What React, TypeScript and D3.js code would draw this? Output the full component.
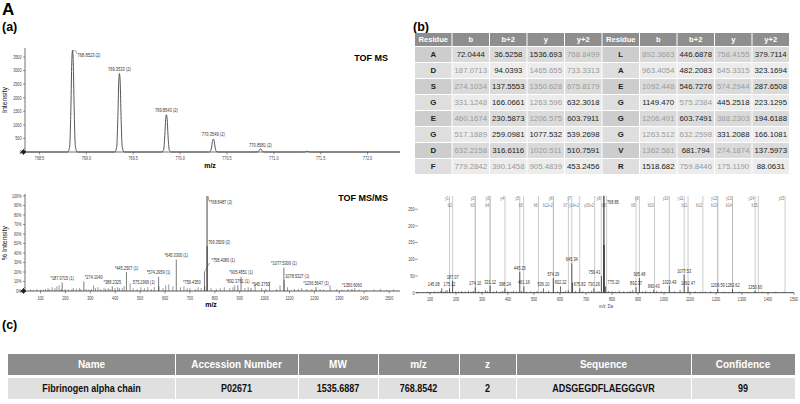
import React from 'react';
import * as d3 from 'd3';

const FONT = "'Liberation Sans', Arial, Helvetica, sans-serif";

// ---------- (a) TOF MS ----------
const msPeakMz = [768.8523, 769.3533, 769.8543, 770.3549, 770.8581, 771.356];
const msPeakInt = [3750, 2890, 1370, 480, 110, 25];
const msPeakLabel = ['768.8523 (2)', '769.3533 (2)', '769.8543 (2)', '770.3549 (2)', '770.8581 (2)', ''];
const msYTicks = [0, 500, 1000, 1500, 2000, 2500, 3000, 3500];
const msXTicks = [768.5, 769.0, 769.5, 770.0, 770.5, 771.0, 771.5, 772.0];

// ---------- (a) TOF MS/MS ----------
const msmsMz = [187.0715, 274.104, 388.2325, 445.2507, 575.2969, 574.2959, 645.33, 759.435, 768.8487, 769.3509, 758.408, 892.3761, 905.4851, 945.375, 1077.5309, 1078.5327, 1206.5647, 1350.606];
const msmsPct = [9, 10, 5, 20, 5, 15, 33, 5, 100, 47, 20, 6, 15, 3, 24.5, 11.5, 4, 2];
const msmsLabel = ['*187.0715 (1)', '*274.1040', '*388.2325', '*445.2507 (1)', '575.2969 (1)', '*574.2959 (1)', '*645.3300 (1)', '*759.4350', '*768.8487 (2)', '769.3509 (2)', '*758.4080 (1)', '*892.3761 (1)', '*905.4851 (1)', '*945.3750', '*1077.5309 (1)', '1078.5327 (1)', '*1206.5647 (1)', '*1350.6060'];
const msmsNoise: [number, number][] = [
  [60, 1.5], [72, 1], [86, 2], [101, 1.5], [112, 1], [120, 2], [130, 3], [136, 1.5], [147, 4], [158, 3], [166, 5], [175, 6], [183, 2],
  [199, 2], [212, 1.5], [226, 2], [232, 3], [244, 2.5], [256, 3], [262, 2], [283, 2], [294, 1.5], [304, 2], [313, 6], [321, 3], [331, 4],
  [342, 2], [355, 3], [361, 2], [372, 3], [379, 2], [399, 3], [410, 4], [417, 3], [428, 3], [436, 5], [460, 8], [472, 3], [488, 2],
  [503, 4], [517, 3], [531, 4], [545, 2], [557, 4], [592, 3], [603, 6], [615, 7], [632, 5], [662, 4], [676, 5], [689, 3], [700, 3],
  [722, 2], [733, 4], [745, 3], [785, 3], [806, 2], [822, 3], [838, 4], [860, 3], [873, 4], [880, 6], [921, 3], [934, 4], [962, 7],
  [988, 3], [1005, 2], [1020, 10], [1048, 2], [1062, 6], [1092, 4], [1120, 2], [1136, 2], [1149, 3], [1170, 2], [1190, 2], [1223, 2],
  [1237, 1.5], [1263, 6], [1290, 2], [1310, 1.5], [1335, 2], [1362, 3], [1380, 1.5], [1410, 1], [1440, 1.5], [1465, 2], [1490, 1], [1518, 1.5],
];
const msmsYTicks = [0, 10, 20, 30, 40, 50, 60, 70, 80, 90, 100];
const msmsXTicks = [100, 200, 300, 400, 500, 600, 700, 800, 900, 1000, 1100, 1200, 1300, 1400, 1500];
const msmsAnchor: Record<string, string> = {
  '*274.1040': 'start', '575.2969 (1)': 'end', '*759.4350': 'end', '*768.8487 (2)': 'leadDown',
  '769.3509 (2)': 'start', '*758.4080 (1)': 'leadUp', '1078.5327 (1)': 'start', '*945.3750': 'start',
};

// ---------- (b) fragment table ----------
const tableHeader = ['Residue', 'b', 'b+2', 'y', 'y+2', 'Residue', 'b', 'b+2', 'y', 'y+2'];
const resLeft = ['A', 'D', 'S', 'G', 'E', 'G', 'D', 'F'];
const bLeft = ['72.0444', '187.0713', '274.1034', '331.1248', '460.1674', '517.1889', '632.2158', '779.2842'];
const b2Left = ['36.5258', '94.0393', '137.5553', '166.0661', '230.5873', '259.0981', '316.6116', '390.1458'];
const yLeft = ['1536.693', '1465.655', '1350.628', '1263.596', '1206.575', '1077.532', '1020.511', '905.4839'];
const y2Left = ['768.8499', '733.3313', '675.8179', '632.3018', '603.7911', '539.2698', '510.7591', '453.2456'];
const resRight = ['L', 'A', 'E', 'G', 'G', 'G', 'V', 'R'];
const bRight = ['892.3683', '963.4054', '1092.448', '1149.470', '1206.491', '1263.512', '1362.581', '1518.682'];
const b2Right = ['446.6878', '482.2083', '546.7276', '575.2384', '603.7491', '632.2598', '681.794', '759.8446'];
const yRight = ['758.4155', '645.3315', '574.2944', '445.2518', '388.2303', '331.2088', '274.1874', '175.1190'];
const y2Right = ['379.7114', '323.1694', '287.6508', '223.1295', '194.6188', '166.1081', '137.5973', '88.0631'];
// matched (shown grey) flags per column
const mbLeft = [false, true, true, true, true, true, true, true];
const mb2Left = [false, false, false, false, false, false, false, true];
const myLeft = [false, true, true, true, true, false, true, true];
const my2Left = [true, true, true, false, false, false, false, false];
const mbRight = [true, true, true, false, true, true, true, false];
const mb2Right = [false, false, false, true, false, true, false, true];
const myRight = [true, true, true, false, true, false, true, true];
const my2Right = [false, false, false, false, false, false, false, false];

// ---------- (b) annotated spectrum ----------
const annPeakMz = [145.08, 175.12, 187.07, 274.1, 331.12, 388.24, 445.25, 461.16, 536.1, 574.29, 602.22, 645.34, 648.3, 675.82, 730.26, 759.41, 768.85, 769.35, 775.2, 892.37, 905.48, 960.43, 1020.49, 1077.53, 1092.47, 1206.59, 1263.62, 1350.6];
const annPeakInt = [13, 13, 36, 16, 21, 13, 63, 19, 13, 43, 19, 88, 30, 13, 13, 50, 300, 143, 19, 16, 44, 9, 21, 54, 18, 11, 11, 6];
const annPeakLabel = ['145.08', '175.12', '187.07', '274.10', '331.12', '388.24', '445.25', '461.16', '536.10', '574.29', '602.22', '645.34', '', '675.82', '730.26', '759.41', '768.85', '', '775.20', '892.37', '905.48', '960.43', '1020.49', '1077.53', '1092.47', '1206.59', '1263.62', '1350.60'];
const annNoise: [number, number][] = [
  [92, 3], [104, 2], [118, 4], [131, 3], [140, 5], [152, 3], [160, 6], [166, 8], [199, 4], [210, 3], [222, 5], [236, 4], [248, 6],
  [258, 3], [266, 5], [287, 4], [300, 3], [313, 8], [320, 5], [344, 4], [356, 6], [372, 3], [380, 5], [399, 4], [412, 3], [421, 6],
  [433, 4], [452, 5], [472, 3], [488, 4], [500, 3], [512, 5], [528, 4], [545, 3], [556, 6], [590, 4], [614, 3], [622, 6], [632, 8],
  [660, 5], [688, 4], [712, 3], [722, 6], [742, 4], [750, 5], [786, 5], [800, 4], [812, 3], [828, 6], [845, 4], [860, 3], [870, 5],
  [880, 8], [918, 4], [930, 6], [948, 3], [972, 5], [990, 4], [1005, 3], [1040, 4], [1062, 8], [1100, 3], [1120, 4], [1140, 3],
  [1160, 3], [1180, 4], [1230, 3], [1250, 2], [1290, 3], [1320, 2], [1380, 3], [1400, 2], [1430, 3], [1460, 2], [1490, 2],
];
const annLabelDx: Record<string, number> = { '145.08': -8, '759.41': -7, '775.20': 8 };
const yIonLabel = ['y1', 'y2', 'y3', 'y4', 'y5', 'y6', 'y7', 'y8', 'y9', 'y10', 'y11', 'y12', 'y13', 'y14', 'y15'];
const yIonMz = [175.119, 274.1874, 331.2088, 388.2303, 445.2518, 574.2944, 645.3315, 758.4155, 905.4839, 1020.511, 1077.532, 1206.575, 1263.596, 1350.628, 1465.655];
const bIonLabel = ['b2', 'b3', 'b4', 'b5', 'b6', 'b12+2', 'b7', 'y14+2', 'y15+2', 'b8', 'b9', 'b10', 'b11', 'b12', 'b13', 'b14', 'b15'];
const bIonMz = [187.0713, 274.1034, 331.1248, 460.1674, 517.1889, 575.2384, 632.2158, 675.8179, 733.3313, 779.2842, 892.3683, 963.4054, 1092.448, 1149.47, 1206.491, 1263.512, 1362.581];
const annYTicks = [0, 50, 100, 150, 200, 250];
const annXTicks = [100, 200, 300, 400, 500, 600, 700, 800, 900, 1000, 1100, 1200, 1300, 1400, 1500];

// ---------- (c) identification table ----------
const idHeader = ['Name', 'Accession Number', 'MW', 'm/z', 'z', 'Sequence', 'Confidence'];
const idRow = ['Fibrinogen alpha chain', 'P02671', '1535.6887', '768.8542', '2', 'ADSGEGDFLAEGGGVR', '99'];

type TP = { x: number; y: number; anchor?: string; sx?: number; size?: number; fill?: string; weight?: string; children: React.ReactNode };
function T({ x, y, anchor = 'start', sx = 0.75, size = 5, fill = '#444', weight = 'normal', children }: TP) {
  return (
    <text transform={`translate(${x},${y}) scale(${sx},1)`} textAnchor={anchor} fontFamily={FONT} fontSize={size} fill={fill} fontWeight={weight}>{children}</text>
  );
}

function Diamond({ x, y }: { x: number; y: number }) {
  return <path d={`M${x - 2.5},${y} L${x},${y - 2.5} L${x + 2.5},${y} L${x},${y + 2.5} Z M${x - 3.5},${y + 1} L${x + 1},${y - 3.5}`} fill="#222" stroke="#222" strokeWidth={0.6} />;
}

export default function App() {
  // ---- TOF MS ----
  const msX = d3.scaleLinear().domain([768.5, 772.0]).range([39.5, 367.5]);
  const msY = d3.scaleLinear().domain([0, 3500]).range([152, 57]);
  const offs = [-0.05, -0.03, -0.017, -0.008, 0, 0.008, 0.017, 0.03, 0.05];
  const fr = [0, 0.06, 0.45, 0.88, 1, 0.88, 0.45, 0.06, 0];
  const prof: [number, number][] = [[msX.invert(25), 0]];
  msPeakMz.forEach((m, i) => offs.forEach((o, j) => prof.push([m + o, msPeakInt[i] * fr[j]])));
  prof.push([msX.invert(400), 0]);
  const profPath = d3.line<[number, number]>().x(d => msX(d[0])).y(d => msY(d[1])).curve(d3.curveMonotoneX)(prof) || '';

  // ---- TOF MS/MS ----
  const mmX = d3.scaleLinear().domain([100, 1500]).range([40.5, 389.1]);
  const mmY = d3.scaleLinear().domain([0, 100]).range([291, 196]);

  // ---- annotated ----
  const anX = d3.scaleLinear().domain([100, 1500]).range([430, 794]);
  const anY = d3.scaleLinear().domain([0, 250]).range([292.7, 209.2]);
  const anTop = 196;

  // table (b)
  const colX = d3.range(11).map(i => 415 + i * 37.5);
  const headTop = 33, headH = 13, rowTop = 47, rowH = 16;
  const cols = [
    { vals: resLeft, m: null as boolean[] | null }, { vals: bLeft, m: mbLeft }, { vals: b2Left, m: mb2Left }, { vals: yLeft, m: myLeft }, { vals: y2Left, m: my2Left },
    { vals: resRight, m: null as boolean[] | null }, { vals: bRight, m: mbRight }, { vals: b2Right, m: mb2Right }, { vals: yRight, m: myRight }, { vals: y2Right, m: my2Right },
  ];

  // table (c)
  const idEdges = [8, 175, 298, 378, 459, 516, 691, 795];

  return (
    <svg width={800} height={404} style={{ position: 'absolute', left: 0, top: 0, background: '#fff' }}>
      <rect width={800} height={404} fill="#fff" />
      <text x={2} y={15} fontFamily={FONT} fontWeight="bold" fontSize={17}>A</text>
      <text x={2} y={31} fontFamily={FONT} fontWeight="bold" fontSize={12.5}>(a)</text>
      <text x={413} y={31} fontFamily={FONT} fontWeight="bold" fontSize={12.5}>(b)</text>
      <text x={2} y={329} fontFamily={FONT} fontWeight="bold" fontSize={12.5}>(c)</text>

      {/* ===== TOF MS ===== */}
      <g>
        <line x1={25} x2={25} y1={48} y2={152} stroke="#333" strokeWidth={0.7} />
        <line x1={25} x2={400} y1={152} y2={152} stroke="#333" strokeWidth={0.7} />
        {msYTicks.map(t => (
          <g key={t}>
            <line x1={23} x2={25} y1={msY(t)} y2={msY(t)} stroke="#333" strokeWidth={0.5} />
            <T x={21.5} y={msY(t) + 1.8} anchor="end">{t}</T>
          </g>
        ))}
        {msXTicks.map(t => (
          <g key={t}>
            <line x1={msX(t)} x2={msX(t)} y1={152} y2={154.5} stroke="#333" strokeWidth={0.5} />
            <T x={msX(t)} y={160} anchor="middle">{t.toFixed(1)}</T>
          </g>
        ))}
        <path d={profPath} fill="none" stroke="#555" strokeWidth={1} />
        {msPeakMz.map((m, i) => {
          if (!msPeakLabel[i]) return null;
          const px = msX(m), py = msY(msPeakInt[i]);
          if (i === 0) {
            return (
              <g key={i}>
                <polyline points={`${px + 0.5},${py} ${px + 3.5},${py + 1} ${px + 4.5},${py + 4}`} fill="none" stroke="#555" strokeWidth={0.5} />
                <T x={px + 5} y={py + 6.5} size={5.4} fill="#333">{msPeakLabel[i]}</T>
              </g>
            );
          }
          return <T key={i} x={px} y={py - 2.5} anchor="middle" size={5.4} fill="#333">{msPeakLabel[i]}</T>;
        })}
        <Diamond x={23.5} y={152} />
        <text x={210} y={168} textAnchor="middle" fontFamily={FONT} fontWeight="bold" fontSize={7}>m/z</text>
        <text transform="translate(7,100) rotate(-90)" textAnchor="middle" fontFamily={FONT} fontSize={7} fill="#222">Intensity</text>
        <text x={388} y={61} textAnchor="end" fontFamily={FONT} fontWeight="bold" fontSize={9}>TOF MS</text>
      </g>

      {/* ===== TOF MS/MS ===== */}
      <g>
        <line x1={25} x2={25} y1={194} y2={291} stroke="#333" strokeWidth={0.7} />
        {msmsNoise.map(([m, p], i) => (
          <line key={'n' + i} x1={mmX(m)} x2={mmX(m)} y1={291} y2={mmY(p)} stroke="#555" strokeWidth={0.6} />
        ))}
        {msmsMz.map((m, i) => (
          <line key={'p' + i} x1={mmX(m)} x2={mmX(m)} y1={291} y2={mmY(msmsPct[i])} stroke="#444" strokeWidth={i === 8 || i === 9 ? 1 : 0.7} />
        ))}
        <line x1={25} x2={400} y1={291} y2={291} stroke="#333" strokeWidth={0.8} />
        {msmsYTicks.map(t => (
          <g key={t}>
            <line x1={23} x2={25} y1={mmY(t)} y2={mmY(t)} stroke="#333" strokeWidth={0.5} />
            <T x={21.5} y={mmY(t) + 1.8} anchor="end">{`${t}%`}</T>
          </g>
        ))}
        {msmsXTicks.map(t => (
          <g key={t}>
            <line x1={mmX(t)} x2={mmX(t)} y1={291} y2={293.5} stroke="#333" strokeWidth={0.5} />
            <T x={mmX(t)} y={299.5} anchor="middle">{t}</T>
          </g>
        ))}
        {msmsMz.map((m, i) => {
          const lab = msmsLabel[i];
          const px = mmX(m), py = mmY(msmsPct[i]);
          const a = msmsAnchor[lab] || 'middle';
          if (a === 'leadDown') {
            return (
              <g key={'l' + i}>
                <polyline points={`${px + 0.5},${py} ${px + 1.5},${py + 1} ${px + 1.5},${py + 4}`} fill="none" stroke="#555" strokeWidth={0.5} />
                <T x={px + 1.5} y={py + 8} size={5.2} fill="#333">{lab}</T>
              </g>
            );
          }
          if (a === 'leadUp') {
            return (
              <g key={'l' + i}>
                <polyline points={`${px},${py} ${px + 5},${py - 9}`} fill="none" stroke="#555" strokeWidth={0.5} />
                <T x={px + 7} y={py - 10} size={5.2} fill="#333">{lab}</T>
              </g>
            );
          }
          if (a === 'start') return <T key={'l' + i} x={px + 1} y={py - 2.5} size={5.2} fill="#333">{lab}</T>;
          if (a === 'end') return <T key={'l' + i} x={px - 4} y={py - 2.5} anchor="end" size={5.2} fill="#333">{lab}</T>;
          return <T key={'l' + i} x={px} y={py - 2.5} anchor="middle" size={5.2} fill="#333">{lab}</T>;
        })}
        <Diamond x={23.5} y={291} />
        <text x={211} y={307} textAnchor="middle" fontFamily={FONT} fontWeight="bold" fontSize={7}>m/z</text>
        <text transform="translate(7,243) rotate(-90)" textAnchor="middle" fontFamily={FONT} fontSize={7} fill="#222">% Intensity</text>
        <text x={388} y={201} textAnchor="end" fontFamily={FONT} fontWeight="bold" fontSize={9}>TOF MS/MS</text>
      </g>

      {/* ===== (b) table ===== */}
      <g>
        {tableHeader.map((h, c) => (
          <g key={'h' + c}>
            <rect x={colX[c]} y={headTop} width={36.5} height={headH} fill="#8e8e8e" />
            <text x={colX[c] + 18.25} y={headTop + 9.2} textAnchor="middle" fontFamily={FONT} fontWeight="bold" fontSize={7.6} fill="#fff">{h}</text>
          </g>
        ))}
        {resLeft.map((_, r) => (
          <g key={'r' + r}>
            {cols.map((col, c) => {
              const isRes = col.m === null;
              const odd = r % 2 === 0;
              const bg = isRes ? (odd ? '#cdcdcd' : '#dedede') : (odd ? '#dadada' : '#ececec');
              const grey = col.m ? col.m[r] : false;
              return (
                <g key={c}>
                  <rect x={colX[c]} y={rowTop + r * rowH} width={36.5} height={rowH - 1} fill={bg} />
                  <text x={colX[c] + 18.25} y={rowTop + r * rowH + 10.3} textAnchor="middle" fontFamily={FONT}
                    fontWeight={isRes ? 'bold' : 'normal'} fontSize={7.8} fill={isRes ? '#222' : grey ? '#9a9a9a' : '#222'}>{col.vals[r]}</text>
                </g>
              );
            })}
          </g>
        ))}
      </g>

      {/* ===== (b) annotated spectrum ===== */}
      <g>
        {yIonMz.map((m, i) => (
          <g key={'y' + i}>
            <line x1={anX(m)} x2={anX(m)} y1={anTop} y2={292.7} stroke="#b5b5b5" strokeWidth={0.7} />
            <T x={anX(m) - 0.8} y={200} anchor="end" size={4.8} fill="#777">{yIonLabel[i]}</T>
          </g>
        ))}
        {bIonMz.map((m, i) => (
          <g key={'b' + i}>
            <line x1={anX(m)} x2={anX(m)} y1={anTop} y2={292.7} stroke="#b5b5b5" strokeWidth={0.7} />
            <T x={anX(m) - 0.8} y={207} anchor="end" size={4.8} fill="#777">{bIonLabel[i]}</T>
          </g>
        ))}
        {annNoise.map(([m, h], i) => (
          <line key={'an' + i} x1={anX(m)} x2={anX(m)} y1={292.7} y2={anY(h)} stroke="#333" strokeWidth={0.6} />
        ))}
        {annPeakMz.map((m, i) => {
          const v = Math.min(annPeakInt[i], 290);
          const px = anX(m), py = anY(v);
          const lab = annPeakLabel[i];
          return (
            <g key={'ap' + i}>
              <line x1={px} x2={px} y1={292.7} y2={py} stroke="#222" strokeWidth={i === 16 || i === 17 ? 1.1 : 0.7} />
              {lab && (annPeakInt[i] > 290
                ? <T x={px + 3} y={204} size={5.2} fill="#333">{lab}</T>
                : <T x={px + (annLabelDx[lab] || 0)} y={py - 2} anchor="middle" size={5.2} fill="#333">{lab}</T>)}
            </g>
          );
        })}
        <line x1={416} x2={794} y1={292.7} y2={292.7} stroke="#222" strokeWidth={0.8} />
        {annYTicks.map(t => (
          <g key={t}>
            <line x1={415} x2={418} y1={anY(t)} y2={anY(t)} stroke="#444" strokeWidth={0.5} />
            <T x={414.5} y={anY(t) + 1.8} anchor="end">{t}</T>
          </g>
        ))}
        {annXTicks.map(t => (
          <g key={t}>
            <line x1={anX(t)} x2={anX(t)} y1={292.7} y2={295} stroke="#333" strokeWidth={0.5} />
            <T x={anX(t)} y={300.5} anchor="middle">{t}</T>
          </g>
        ))}
        <T x={606} y={308} anchor="middle" size={5.4}>m/z, Da</T>
      </g>

      {/* ===== (c) table ===== */}
      <g>
        {idHeader.map((h, c) => (
          <g key={'ih' + c}>
            <rect x={idEdges[c] + (c ? 1 : 0)} y={354} width={idEdges[c + 1] - idEdges[c] - (c ? 1 : 0)} height={21} fill="#8c8c8c" />
            <text x={(idEdges[c] + idEdges[c + 1]) / 2} y={368} textAnchor="middle" fontFamily={FONT} fontWeight="bold" fontSize={10} fill="#fff">{h}</text>
            <rect x={idEdges[c] + (c ? 1 : 0)} y={378} width={idEdges[c + 1] - idEdges[c] - (c ? 1 : 0)} height={21} fill="#e0e0e0" />
            <T x={(idEdges[c] + idEdges[c + 1]) / 2} y={392} anchor="middle" sx={0.82} size={11} weight="bold" fill="#111">{idRow[c]}</T>
          </g>
        ))}
      </g>
    </svg>
  );
}
